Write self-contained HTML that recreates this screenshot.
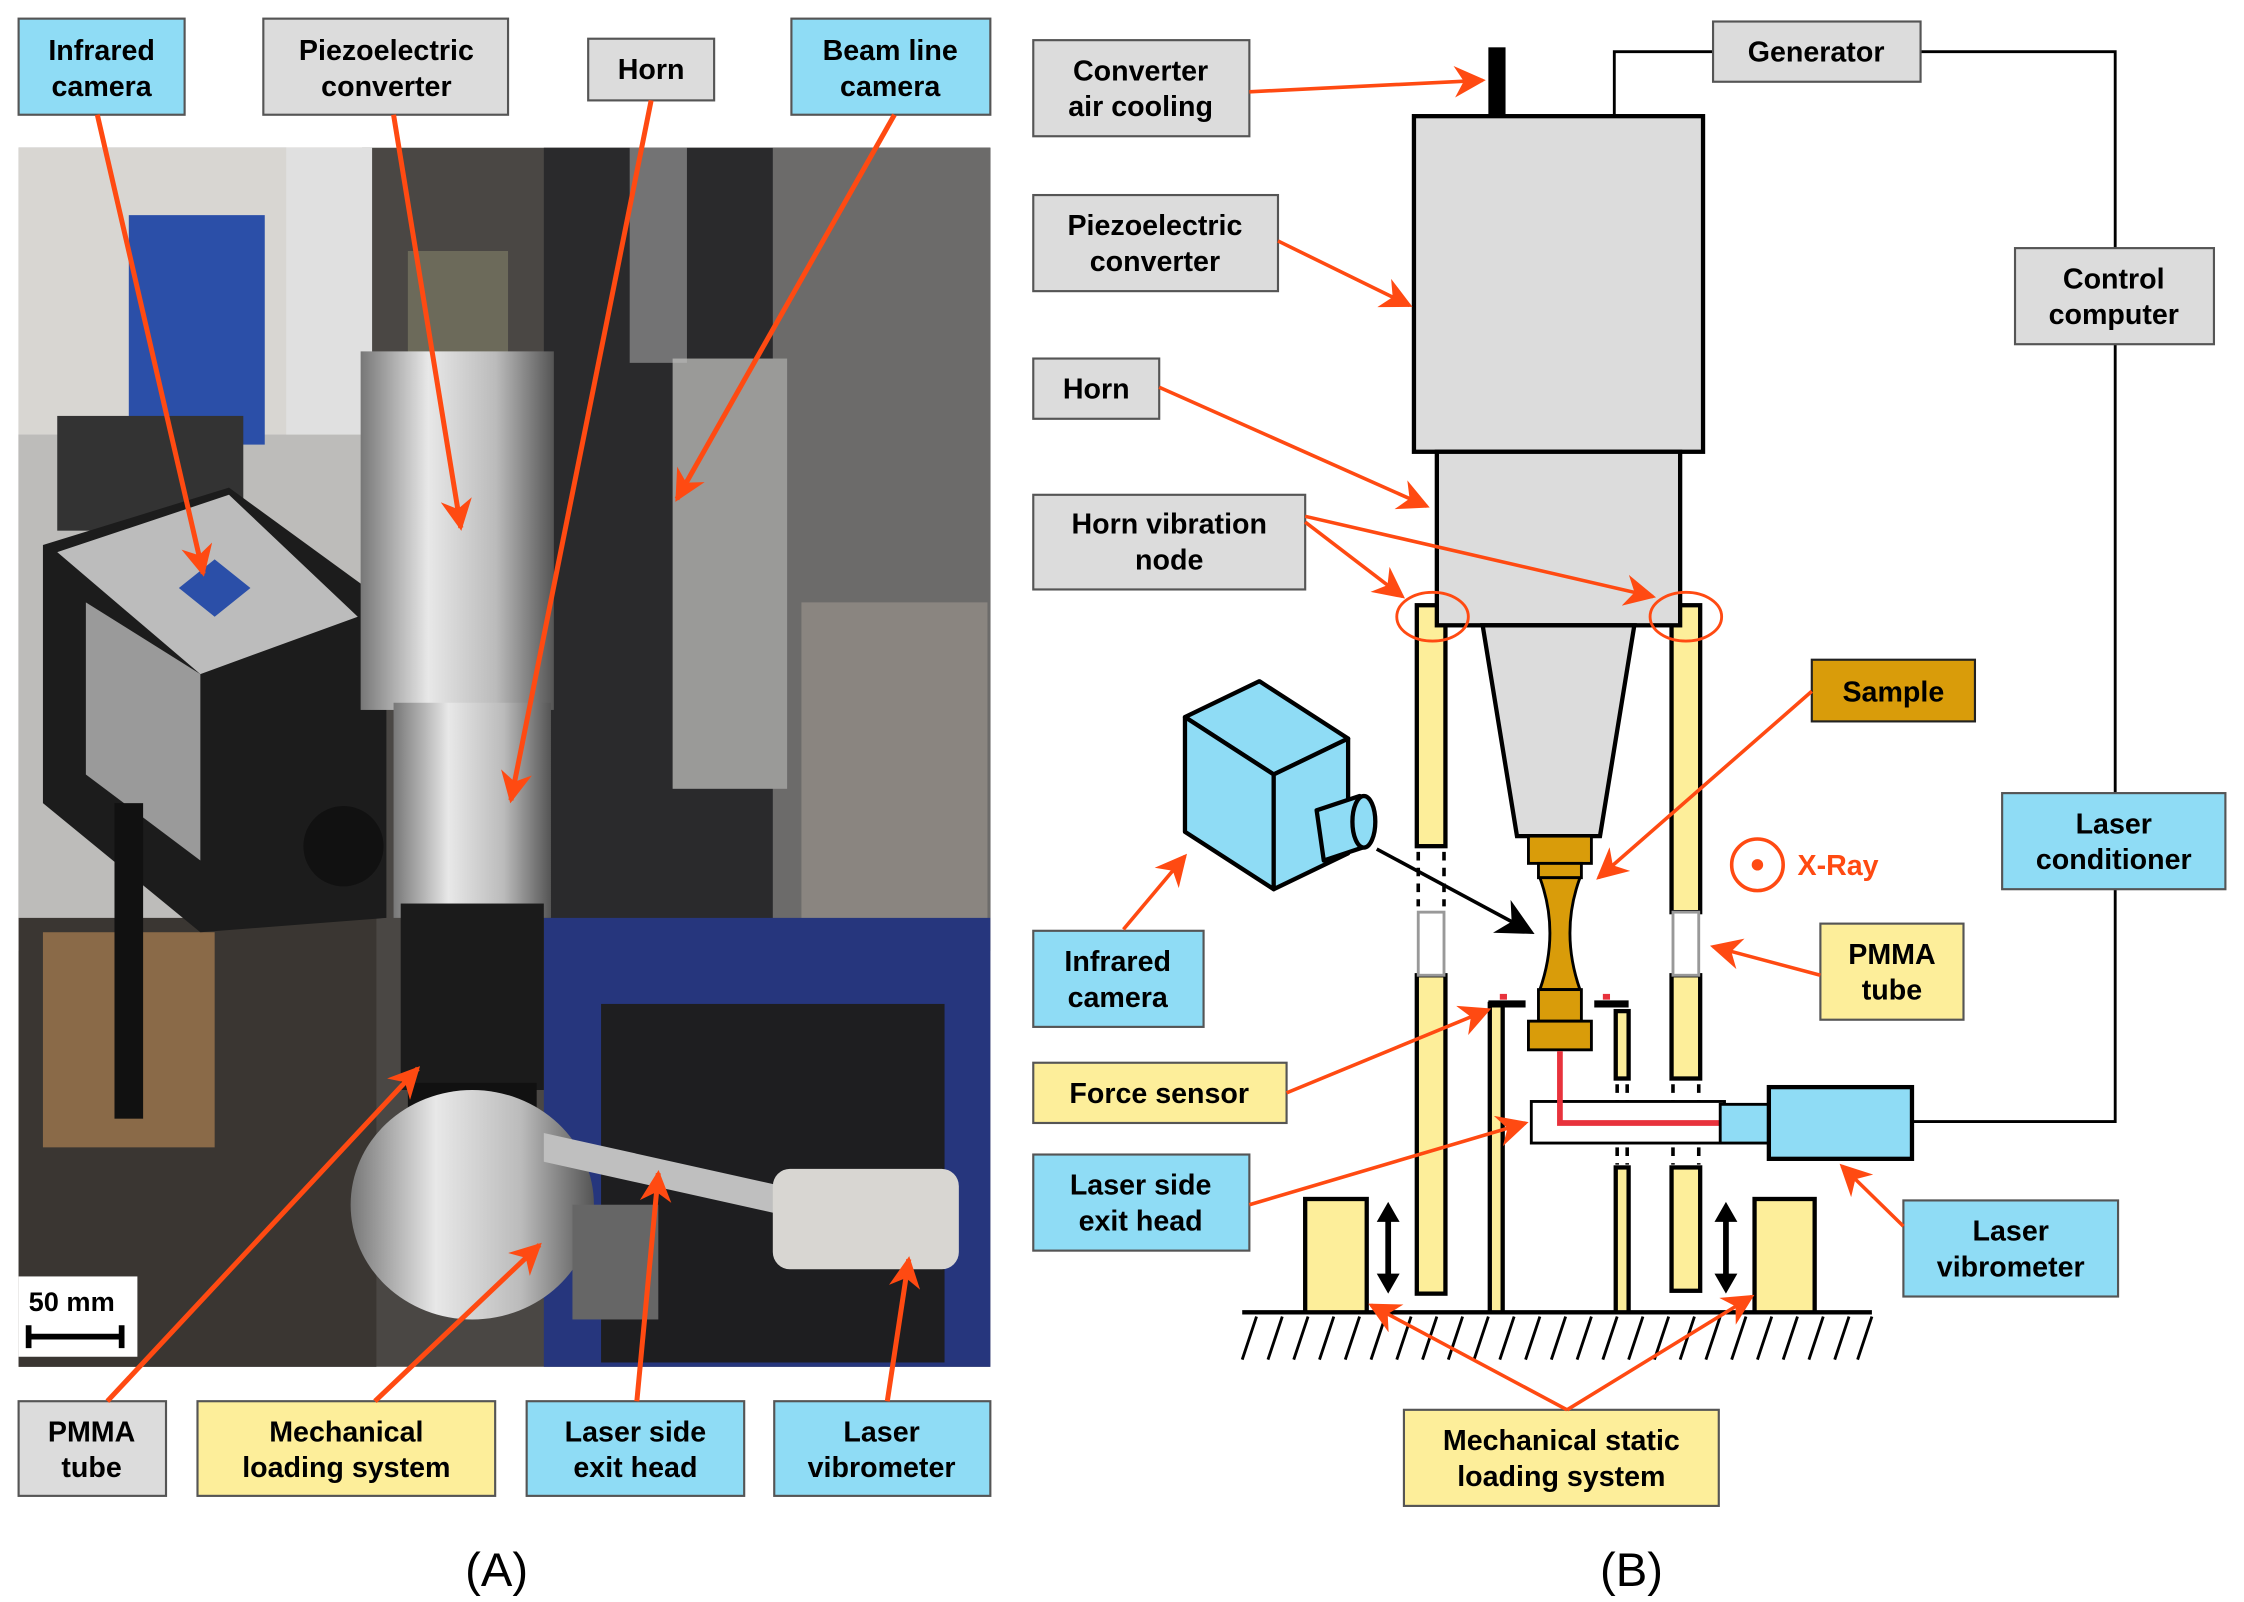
<!DOCTYPE html>
<html><head><meta charset="utf-8">
<style>
html,body{margin:0;padding:0;background:#fff;}
svg{display:block;}
text{font-family:"Liberation Sans",sans-serif;font-weight:bold;font-size:20px;fill:#000;}
</style></head><body>
<svg width="2244" height="1602" viewBox="0 0 1568 1117" preserveAspectRatio="none" xmlns="http://www.w3.org/2000/svg">
<defs>
<marker id="ba" viewBox="0 0 10 10" refX="9" refY="5" markerWidth="26" markerHeight="26" orient="auto" markerUnits="userSpaceOnUse">
<path d="M0,0 L10,5 L0,10 L3,5 z" fill="#000"/>
</marker>
<marker id="ob" viewBox="0 0 10 10" refX="9" refY="5" markerWidth="22" markerHeight="22" orient="auto" markerUnits="userSpaceOnUse">
<path d="M0,0 L10,5 L0,10 L3,5 z" fill="#ff4a12"/>
</marker>
<linearGradient id="silver" x1="0" x2="1"><stop offset="0" stop-color="#777"/><stop offset=".35" stop-color="#e8e8e8"/><stop offset=".7" stop-color="#bbb"/><stop offset="1" stop-color="#555"/></linearGradient>
</defs>

<!-- ===== Panel A photo approximation ===== -->
<rect x="13" y="103" width="679" height="850" fill="#4a4744"/>
<rect x="13" y="103" width="240" height="560" fill="#bdbcba"/>
<rect x="13" y="103" width="240" height="200" fill="#d8d6d2"/>
<rect x="90" y="150" width="95" height="160" fill="#2b4fa8"/>
<rect x="200" y="103" width="60" height="200" fill="#e0e0e0"/>
<rect x="40" y="290" width="130" height="80" fill="#333"/>
<rect x="380" y="103" width="312" height="560" fill="#2a2a2c"/>
<rect x="540" y="103" width="152" height="560" fill="#6c6b6a"/>
<rect x="470" y="250" width="80" height="300" fill="#9a9a98"/>
<rect x="560" y="420" width="130" height="230" fill="#8a8580"/>
<rect x="380" y="640" width="312" height="313" fill="#26367d"/>
<rect x="13" y="640" width="250" height="313" fill="#3a3632"/>
<rect x="30" y="650" width="120" height="150" fill="#8a6a48"/>
<rect x="420" y="700" width="240" height="250" fill="#1e1e20"/>
<path d="M30,380 L160,340 L270,420 L270,640 L140,650 L30,560 Z" fill="#1c1c1c"/>
<path d="M40,385 L160,345 L250,430 L140,470 Z" fill="#bcbcbc"/>
<path d="M60,420 L140,470 L140,600 L60,540 Z" fill="#9a9a9a"/>
<polygon points="150,390 175,410 150,430 125,410" fill="#2b4fa8"/>
<circle cx="240" cy="590" r="28" fill="#111"/>
<rect x="80" y="560" width="20" height="220" fill="#111"/>
<rect x="285" y="175" width="70" height="75" fill="#6c6a5a"/>
<rect x="252" y="245" width="135" height="250" fill="url(#silver)"/>
<rect x="275" y="490" width="110" height="150" fill="url(#silver)"/>
<rect x="280" y="630" width="100" height="130" fill="#1b1b1b"/>
<rect x="285" y="755" width="90" height="30" fill="#111"/>
<ellipse cx="330" cy="840" rx="85" ry="80" fill="url(#silver)"/>
<path d="M380,790 L560,830 L560,850 L380,810 Z" fill="#bfbfbf"/>
<rect x="540" y="815" width="130" height="70" rx="12" fill="#d8d6d2"/>
<rect x="400" y="840" width="60" height="80" fill="#666"/>
<rect x="440" y="103" width="40" height="150" fill="#bbb" opacity=".5"/>
<rect x="13" y="890" width="83" height="56" fill="#fff"/>
<text x="20" y="914" style="font-size:19px">50 mm</text>
<path d="M20,932 H85 M20,924 V940 M85,924 V940" stroke="#000" stroke-width="4"/>

<g stroke="#555" stroke-width="1.5">
<rect x="13" y="13" width="116" height="67" fill="#8fdcf5"/>
<rect x="184" y="13" width="171" height="67" fill="#dcdcdc"/>
<rect x="411" y="27" width="88" height="43" fill="#dcdcdc"/>
<rect x="553" y="13" width="139" height="67" fill="#8fdcf5"/>
<rect x="13" y="977" width="103" height="66" fill="#dcdcdc"/>
<rect x="138" y="977" width="208" height="66" fill="#fdee9a"/>
<rect x="368" y="977" width="152" height="66" fill="#8fdcf5"/>
<rect x="541" y="977" width="151" height="66" fill="#8fdcf5"/>
</g>
<g text-anchor="middle">
<text x="71" y="42">Infrared</text><text x="71" y="67">camera</text>
<text x="270" y="42">Piezoelectric</text><text x="270" y="67">converter</text>
<text x="455" y="55">Horn</text>
<text x="622" y="42">Beam line</text><text x="622" y="67">camera</text>
<text x="64" y="1005">PMMA</text><text x="64" y="1030">tube</text>
<text x="242" y="1005">Mechanical</text><text x="242" y="1030">loading  system</text>
<text x="444" y="1005">Laser side</text><text x="444" y="1030">exit head</text>
<text x="616" y="1005">Laser</text><text x="616" y="1030">vibrometer</text>
<text x="347" y="1106" style="font-weight:normal;font-size:33px">(A)</text>
<text x="1140" y="1106" style="font-weight:normal;font-size:33px">(B)</text>
</g>
<g stroke="#ff4a12" stroke-width="3.5" fill="none" marker-end="url(#ob)">
<line x1="68" y1="80" x2="142" y2="400"/>
<line x1="275" y1="80" x2="322" y2="368"/>
<line x1="455" y1="70" x2="357" y2="558"/>
<line x1="625" y1="80" x2="473" y2="348"/>
<line x1="75" y1="977" x2="292" y2="745"/>
<line x1="262" y1="977" x2="377" y2="868"/>
<line x1="445" y1="977" x2="460" y2="818"/>
<line x1="620" y1="977" x2="635" y2="878"/>
</g>

<!-- ===== Panel B ===== -->
<path d="M1128,81 V36 H1197 M1342,36 H1478 V173 M1478,240 V553 M1478,620 V782 H1336" stroke="#000" stroke-width="2" fill="none"/>
<line x1="868" y1="915" x2="1308" y2="915" stroke="#000" stroke-width="3"/>
<g stroke="#000" stroke-width="2">
<path d="M878,918 l-10,30 M896,918 l-10,30 M914,918 l-10,30 M932,918 l-10,30 M950,918 l-10,30 M968,918 l-10,30 M986,918 l-10,30 M1004,918 l-10,30 M1022,918 l-10,30 M1040,918 l-10,30 M1058,918 l-10,30 M1076,918 l-10,30 M1094,918 l-10,30 M1112,918 l-10,30 M1130,918 l-10,30 M1148,918 l-10,30 M1166,918 l-10,30 M1184,918 l-10,30 M1202,918 l-10,30 M1220,918 l-10,30 M1238,918 l-10,30 M1256,918 l-10,30 M1274,918 l-10,30 M1292,918 l-10,30 M1308,918 l-10,30"/>
</g>
<g stroke="#000" stroke-width="3" fill="#fdee9a">
<rect x="990" y="422" width="20" height="168"/>
<rect x="990" y="680" width="20" height="222"/>
<rect x="1168" y="422" width="20" height="214"/>
<rect x="1168" y="680" width="20" height="72"/>
<rect x="1168" y="814" width="20" height="86"/>
<rect x="1041" y="700" width="9" height="215"/>
<rect x="1129" y="705" width="9" height="47"/>
<rect x="1129" y="814" width="9" height="101"/>
<rect x="912" y="836" width="43" height="79"/>
<rect x="1226" y="836" width="42" height="79"/>
</g>
<g stroke="#999" stroke-width="2" fill="#fff">
<rect x="991" y="636" width="18" height="44"/>
<rect x="1169" y="636" width="18" height="44"/>
</g>
<g stroke="#000" stroke-width="2.5" stroke-dasharray="6,5">
<path d="M991,594 V632 M1009,594 V632 M1169,756 V812 M1187,756 V812 M1130,756 V812 M1137,756 V812"/>
</g>
<rect x="1040" y="33" width="12" height="48" fill="#000"/>
<rect x="988" y="81" width="202" height="234" fill="#dcdcdc" stroke="#000" stroke-width="3"/>
<rect x="1004" y="315" width="170" height="121" fill="#dcdcdc" stroke="#000" stroke-width="3"/>
<polygon points="1036,436 1142,436 1118,583 1060,583" fill="#dcdcdc" stroke="#000" stroke-width="3"/>
<g fill="#d99c0a" stroke="#000" stroke-width="2">
<rect x="1068" y="583" width="44" height="19"/>
<rect x="1075" y="602" width="30" height="10"/>
<path d="M1076,612 H1104 Q1090,650 1104,690 H1076 Q1090,650 1076,612 Z"/>
<rect x="1075" y="690" width="30" height="22"/>
<rect x="1068" y="712" width="44" height="20"/>
</g>
<path d="M1040,700 H1066 M1114,700 H1138" stroke="#000" stroke-width="5"/>
<rect x="1048" y="693" width="5" height="4" fill="#e8323c"/>
<rect x="1120" y="693" width="5" height="4" fill="#e8323c"/>
<rect x="1070" y="768" width="135" height="29" fill="#fff" stroke="#000" stroke-width="2"/>
<path d="M1090,733 V783 H1204" stroke="#e8323c" stroke-width="4" fill="none"/>
<rect x="1202" y="770" width="34" height="27" fill="#8fdcf5" stroke="#000" stroke-width="2"/>
<rect x="1236" y="758" width="100" height="50" fill="#8fdcf5" stroke="#000" stroke-width="3"/>
<g stroke="#000" stroke-width="4">
<line x1="970" y1="850" x2="970" y2="890"/><line x1="1206" y1="850" x2="1206" y2="890"/>
</g>
<path d="M962,852 L970,838 L978,852 Z M962,888 L970,902 L978,888 Z M1198,852 L1206,838 L1214,852 Z M1198,888 L1206,902 L1214,888 Z" fill="#000"/>
<ellipse cx="1001" cy="430" rx="25" ry="17" fill="none" stroke="#ff4a12" stroke-width="2"/>
<ellipse cx="1178" cy="430" rx="25" ry="17" fill="none" stroke="#ff4a12" stroke-width="2"/>
<circle cx="1228" cy="603" r="18" fill="none" stroke="#ff4a12" stroke-width="2.5"/>
<circle cx="1228" cy="603" r="4" fill="#ff4a12"/>
<text x="1256" y="610" style="fill:#ff4a12">X-Ray</text>
<g stroke="#000" stroke-width="3" stroke-linejoin="round" fill="#8fdcf5">
<polygon points="828,500 880,475 942,515 890,540"/>
<polygon points="828,500 890,540 890,620 828,580"/>
<polygon points="890,540 942,515 942,595 890,620"/>
<path d="M920,565 L950,555 L955,590 L925,600 Z"/>
<ellipse cx="953" cy="573" rx="8" ry="18"/>
</g>
<line x1="962" y1="592" x2="1070" y2="650" stroke="#000" stroke-width="2.5" marker-end="url(#ba)"/>

<g stroke="#555" stroke-width="1.5">
<rect x="722" y="28" width="151" height="67" fill="#dcdcdc"/>
<rect x="722" y="136" width="171" height="67" fill="#dcdcdc"/>
<rect x="722" y="250" width="88" height="42" fill="#dcdcdc"/>
<rect x="722" y="345" width="190" height="66" fill="#dcdcdc"/>
<rect x="1197" y="15" width="145" height="42" fill="#dcdcdc"/>
<rect x="1408" y="173" width="139" height="67" fill="#dcdcdc"/>
<rect x="1399" y="553" width="156" height="67" fill="#8fdcf5"/>
<rect x="722" y="649" width="119" height="67" fill="#8fdcf5"/>
<rect x="722" y="805" width="151" height="67" fill="#8fdcf5"/>
<rect x="1330" y="837" width="150" height="67" fill="#8fdcf5"/>
<rect x="722" y="741" width="177" height="42" fill="#fdee9a"/>
<rect x="1272" y="644" width="100" height="67" fill="#fdee9a"/>
<rect x="981" y="983" width="220" height="67" fill="#fdee9a"/>
<rect x="1266" y="460" width="114" height="43" fill="#d99c0a" stroke="#222"/>
</g>
<g text-anchor="middle">
<text x="797" y="56">Converter</text><text x="797" y="81">air cooling</text>
<text x="807" y="164">Piezoelectric</text><text x="807" y="189">converter</text>
<text x="766" y="278">Horn</text>
<text x="817" y="372">Horn vibration</text><text x="817" y="397">node</text>
<text x="1269" y="43">Generator</text>
<text x="1477" y="201">Control</text><text x="1477" y="226">computer</text>
<text x="1477" y="581">Laser</text><text x="1477" y="606">conditioner</text>
<text x="781" y="677">Infrared</text><text x="781" y="702">camera</text>
<text x="797" y="833">Laser side</text><text x="797" y="858">exit head</text>
<text x="1405" y="865">Laser</text><text x="1405" y="890">vibrometer</text>
<text x="810" y="769">Force sensor</text>
<text x="1322" y="672">PMMA</text><text x="1322" y="697">tube</text>
<text x="1091" y="1011">Mechanical static</text><text x="1091" y="1036">loading  system</text>
<text x="1323" y="489">Sample</text>
</g>
<g stroke="#ff4a12" stroke-width="2.5" fill="none" marker-end="url(#ob)">
<line x1="873" y1="64" x2="1036" y2="56"/>
<line x1="893" y1="168" x2="985" y2="213"/>
<line x1="810" y1="270" x2="997" y2="353"/>
<line x1="912" y1="364" x2="980" y2="416"/>
<line x1="912" y1="360" x2="1155" y2="416"/>
<line x1="1266" y1="482" x2="1117" y2="612"/>
<line x1="785" y1="648" x2="828" y2="597"/>
<line x1="899" y1="762" x2="1040" y2="704"/>
<line x1="1272" y1="680" x2="1197" y2="660"/>
<line x1="873" y1="840" x2="1066" y2="783"/>
<line x1="1330" y1="855" x2="1287" y2="813"/>
<line x1="1095" y1="983" x2="958" y2="910"/>
<line x1="1095" y1="983" x2="1224" y2="904"/>
</g>
</svg>
</body></html>
